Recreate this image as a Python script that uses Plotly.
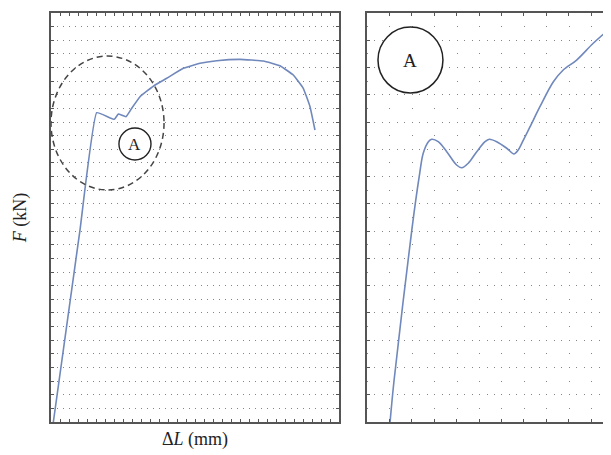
import plotly.graph_objects as go

# ---- data ----
# Left panel: full force-elongation curve
left_dL = [0.26, 3.22, 5.08, 7.03, 7.48, 8.33, 8.97, 9.89, 11.56, 12.86, 14.70,
           16.56, 18.41, 21.0, 23.59, 25.44, 26.92, 28.03, 28.78, 29.33]
left_F = [0, 140.8, 226.9, 222.0, 225.9, 223.9, 230.1, 238.6, 247.2, 252.1, 259.4,
          263.1, 265.0, 266.0, 264.8, 261.3, 254.5, 244.8, 231.3, 214.2]

# Right panel: detail of region A (zoomed units)
right_x = [1.03, 1.21, 2.00, 2.33, 2.51, 2.74, 2.89, 3.18, 3.56, 4.00, 4.23, 4.52,
           4.90, 5.27, 5.46, 5.79, 6.24, 6.56, 6.75, 6.98, 7.28, 7.72, 8.32, 8.76,
           9.36, 10.10, 10.85, 11.52]
right_y = [0, 3.08, 14.08, 17.99, 19.71, 20.56, 20.74, 20.56, 19.83, 18.85, 18.65,
           18.98, 19.83, 20.56, 20.74, 20.56, 20.08, 19.66, 19.95, 20.68, 21.66,
           23.13, 24.96, 25.82, 26.55, 27.78, 28.88, 29.85]

x_title = "Δ<i>L</i> (mm)"
y_title = "<i>F</i> (kN)"
label_A = "A"

# ---- styling ----
LINE_COLOR = "#7088bb"
FRAME = "#555555"
GRID = "#858585"
SERIF = "Liberation Serif, Times New Roman, serif"

# page body has an 8px default margin -> figure is 603x447 placed at (8, 8)
W, H = 603, 447

def fx(px):
    return (px - 8) / W

def fy(py):
    return 1 - (py - 8) / H

fig = go.Figure()
fig.add_trace(go.Scatter(x=left_dL, y=left_F, mode="lines",
                         line=dict(color=LINE_COLOR, width=1.6, shape="spline", smoothing=0.3),
                         xaxis="x", yaxis="y", showlegend=False, hoverinfo="skip"))
fig.add_trace(go.Scatter(x=right_x, y=right_y, mode="lines",
                         line=dict(color=LINE_COLOR, width=1.6, shape="spline", smoothing=0.9),
                         xaxis="x2", yaxis="y2", showlegend=False, hoverinfo="skip"))

ydom = [fy(422), fy(13)]

fig.update_layout(
    width=W, height=H,
    margin=dict(l=0, r=0, t=0, b=0),
    paper_bgcolor="white", plot_bgcolor="white",
    font=dict(family=SERIF, color="#222", size=15),
    xaxis=dict(domain=[fx(51), fx(339)], range=[0, 32], dtick=1,
               showgrid=False, zeroline=False, showticklabels=False,
               ticks="inside", ticklen=3, tickcolor=FRAME, tickwidth=1,
               showline=True, linecolor=FRAME, linewidth=2, mirror="ticks",
               title=dict(text=x_title, standoff=9, font=dict(family=SERIF, size=18))),
    yaxis=dict(domain=ydom, range=[0, 300], dtick=10,
               showgrid=True, gridcolor=GRID, gridwidth=1, griddash="1px,5px",
               zeroline=False, showticklabels=False,
               ticks="inside", ticklen=3, tickcolor=FRAME, tickwidth=1,
               showline=True, linecolor=FRAME, linewidth=2, mirror="ticks",
               title=dict(text=y_title, standoff=18, font=dict(family=SERIF, size=18))),
    xaxis2=dict(domain=[fx(367), 1.0], range=[0, 10.893], dtick=1, anchor="y2",
                showgrid=False, zeroline=False, showticklabels=False,
                ticks="inside", ticklen=3, tickcolor=FRAME, tickwidth=1,
                showline=True, linecolor=FRAME, linewidth=1.6, mirror="ticks"),
    yaxis2=dict(domain=ydom, range=[0, 30], dtick=2, anchor="x2",
                showgrid=True, gridcolor=GRID, gridwidth=1, griddash="1px,6.47px",
                minor=dict(dtick=1, showgrid=True, gridcolor=GRID, gridwidth=1,
                           griddash="1px,21.4px", ticks=""),
                zeroline=False, showticklabels=False,
                ticks="inside", ticklen=3, tickcolor=FRAME, tickwidth=1,
                showline=True, linecolor=FRAME, linewidth=1.6, mirror=False),
    shapes=[
        dict(type="circle", xref="x", yref="y", x0=0, x1=12.56, y0=170.2, y1=268.4,
             line=dict(color="#444", width=1.5, dash="6px,4px")),
        dict(type="circle", xref="x", yref="y", x0=7.55, x1=11.11, y0=192.2, y1=215.6,
             line=dict(color="#222", width=1.4), fillcolor="white"),
        dict(type="circle", xref="x2", yref="y2", x0=0.49, x1=3.39, y0=24.13, y1=28.97,
             line=dict(color="#222", width=1.5), fillcolor="white"),
    ],
    annotations=[
        dict(x=9.33, y=203.9, xref="x", yref="y", text=label_A, showarrow=False,
             font=dict(family=SERIF, size=17, color="#222")),
        dict(x=1.94, y=26.55, xref="x2", yref="y2", text=label_A, showarrow=False,
             font=dict(family=SERIF, size=19, color="#222")),
    ],
)

fig.write_html("out.html")
